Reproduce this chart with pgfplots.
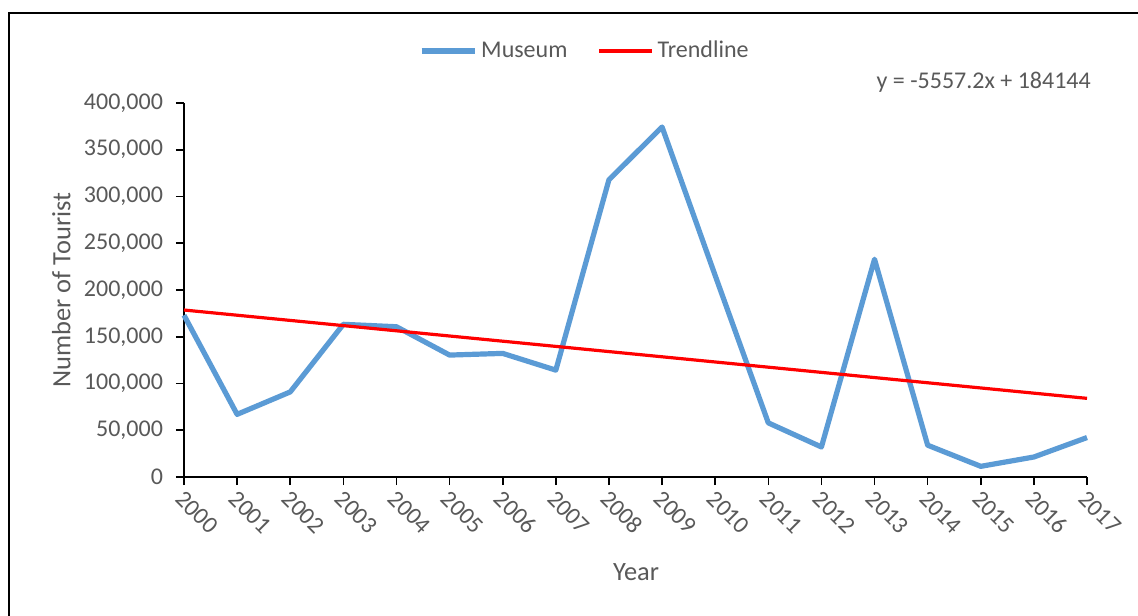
\documentclass[border=0pt]{standalone}
\usepackage{fontspec}
\setmainfont{Carlito}
\usepackage{pgfplots}
\pgfplotsset{compat=1.18}
\definecolor{museum}{HTML}{5B9BD5}
\definecolor{txt}{HTML}{595959}
\begin{document}
\begin{tikzpicture}
\useasboundingbox (0pt,0pt) rectangle (569pt,307.5pt);
\fill[white] (0pt,0pt) rectangle (569pt,307.5pt);
\draw[black, line width=1pt] (4.5pt,-2pt) -- (4.5pt,301pt) -- (571pt,301pt);
\begin{axis}[
  at={(92pt,69pt)}, anchor=south west,
  scale only axis, width=451.5pt, height=187pt,
  xmin=0, xmax=17, ymin=0, ymax=400000,
  axis lines=left, axis line style={-, black, line width=0.8pt},
  tick align=outside, major tick length=4pt,
  tick style={black, line width=0.8pt},
  xtick=data,
  xticklabels={2000,2001,2002,2003,2004,2005,2006,2007,2008,2009,2010,2011,2012,2013,2014,2015,2016,2017},
  ytick={0,50000,100000,150000,200000,250000,300000,350000,400000},
  yticklabels={0,{50,000},{100,000},{150,000},{200,000},{250,000},{300,000},{350,000},{400,000}},
  scaled y ticks=false,
  ticklabel style={font=\fontsize{12}{14}\selectfont, text=txt},
  xticklabel style={rotate=-45, anchor=west, yshift=-5pt, xshift=-1.5pt},
  yticklabel style={xshift=-3pt},
  xlabel={Year}, ylabel={Number of Tourist},
  label style={font=\fontsize{13.2}{15}\selectfont, text=txt},
  xlabel style={at={(axis description cs:0.5006,-0.254)}, anchor=center},
  ylabel style={at={(axis description cs:-0.136,0.5)}, anchor=center},
  legend columns=2,
  legend style={at={(0.445,1.139)}, anchor=center, draw=none, fill=none,
    font=\fontsize{12}{14}\selectfont, text=txt,
    /tikz/every even column/.append style={column sep=13pt}},
  legend image code/.code={\draw[#1] (0pt,0pt) -- (26.5pt,0pt);},
  clip=false,
]
\addplot[museum, line width=2.6pt, line join=round] coordinates {
 (0,173000) (1,67000) (2,91000) (3,163300) (4,160700) (5,130400)
 (6,132200) (7,114300) (8,317900) (9,374300) (10,215500) (11,57900)
 (12,32100) (13,232900) (14,34000) (15,11400) (16,21400) (17,42200)
};
\addlegendentry{Museum}
\addplot[red, line width=1.6pt] coordinates {
 (0,178586.8) (17,84114.4)
};
\addlegendentry{Trendline}
\node[anchor=east, text=txt, font=\fontsize{12}{14}\selectfont] at (rel axis cs:1.012,1.056) {y = -5557.2x + 184144};
\end{axis}
\end{tikzpicture}
\end{document}
